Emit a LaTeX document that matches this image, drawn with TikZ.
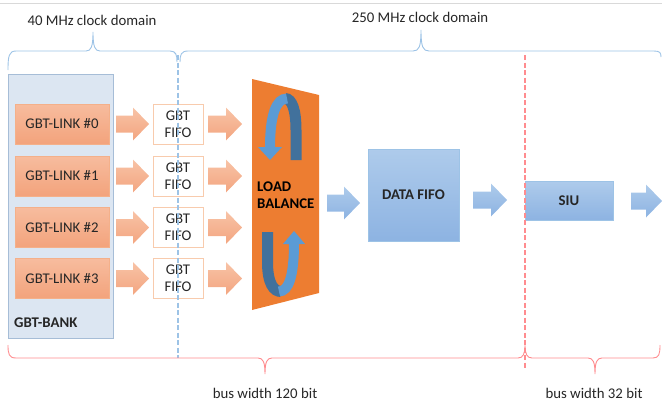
\documentclass[tikz,border=0pt]{standalone}
\usepackage{fontspec}
\setmainfont{Carlito}
\definecolor{txt}{HTML}{262626}
\definecolor{bankfill}{HTML}{DCE6F2}
\definecolor{bankline}{HTML}{A6BDD7}
\definecolor{linktop}{HTML}{F7BC9E}
\definecolor{linkbot}{HTML}{F3A37C}
\definecolor{linkline}{HTML}{F4B08A}
\definecolor{fifoline}{HTML}{F8CBAD}
\definecolor{arrtop}{HTML}{F8C3A6}
\definecolor{arrbot}{HTML}{F3A580}
\definecolor{lbfill}{HTML}{ED7D31}
\definecolor{rotlight}{HTML}{5B9BD5}
\definecolor{rotdark}{HTML}{41719C}
\definecolor{bluetop}{HTML}{AECBEB}
\definecolor{bluebot}{HTML}{8DB3E2}
\definecolor{blueline}{HTML}{9DC3E6}
\definecolor{redline}{HTML}{FF8C8F}
\newcommand\fs{\fontsize{14.8}{17}\selectfont}
\newcommand\barrow[4]{%
  \shade[#4] ({#1},{#3-8.5}) -- ({#2-16},{#3-8.5}) -- ({#2-16},{#3-16.5}) -- ({#2},{#3}) -- ({#2-16},{#3+16.5}) -- ({#2-16},{#3+8.5}) -- ({#1},{#3+8.5}) -- cycle;}
\tikzset{
  lbl/.style={font=\fs, text=txt, inner sep=0},
  link/.style={lbl, draw=linkline, top color=linktop, bottom color=linkbot, minimum width=94pt, minimum height=40pt},
  gfifo/.style={lbl, draw=fifoline, fill=white, minimum width=50pt, minimum height=40pt, align=center},
  bluebox/.style={lbl, font=\fs\bfseries, draw=blueline, top color=bluetop, bottom color=bluebot},
  orarrow/.style={top color=arrtop, bottom color=arrbot},
  blarrow/.style={top color=bluetop, bottom color=bluebot},
  bluebrace/.style={draw=blueline, line width=0.9pt},
  redbrace/.style={draw=redline, line width=0.9pt},
  sepline/.style={dashed, dash pattern=on 5pt off 2.5pt, line width=1.3pt},
}
\begin{document}
\begin{tikzpicture}[x=1pt,y=-1pt]
\useasboundingbox (0,0) rectangle (662,402);
\draw[black!15, line width=0.8pt] (0,3) -- (662,3);
% clock domain braces
\draw[bluebrace] (8,70) .. controls (8,56) and (9,51) .. (16,51) -- (86,51) .. controls (91,51) and (93,47) .. (93,32) .. controls (93,47) and (95,51) .. (100,51) -- (170,51) .. controls (176,51) and (177,55) .. (177,62);
\draw[bluebrace] (180,62) .. controls (180,55) and (181,51) .. (188,51) -- (413,51) .. controls (419,51) and (421,47) .. (421,30) .. controls (421,47) and (423,51) .. (429,51) -- (654,51) .. controls (660,51) and (661,53) .. (661,57);
\node[lbl] (clk40) at (92,20) {40 MHz clock domain};
\node[lbl] (clk250) at (420,17) {250 MHz clock domain};
% GBT bank
\node[lbl, draw=bankline, fill=bankfill, minimum width=105pt, minimum height=264pt] (bank) at (60.5,206) {};
\node[lbl, font=\fs\bfseries, anchor=west] (banklbl) at (14,323) {GBT-BANK};
\foreach \i/\y in {0/124,1/176,2/227.5,3/278.5}{
  \node[link] (link\i) at (62,\y) {GBT-LINK \#\i};
  \barrow{116}{149}{\y}{orarrow}
  \node[gfifo] (gfifo\i) at (178,\y) {GBT\\FIFO};
  \barrow{208}{242}{\y}{orarrow}
}
% load balance
\fill[lbfill] (252,79) -- (319,95) -- (319,293) -- (252,310) -- cycle;
\draw[line width=11pt, rotdark] (296,160) -- (296,130) .. controls (296,110) and (292,98.5) .. (285,98.5);
\draw[line width=10pt, rotlight] (287,98.5) .. controls (276,98.5) and (270,115) .. (270,148);
\fill[rotlight] (258,147) -- (282,147) -- (270,160) -- cycle;
\draw[line width=11pt, rotdark] (267.5,232) -- (267.5,262) .. controls (267.5,284) and (274,291.5) .. (281,291.5);
\draw[line width=10pt, rotlight] (279,291.5) .. controls (289,291.5) and (294,275) .. (294,243);
\fill[rotlight] (283,244) -- (305,244) -- (294,231) -- cycle;
\node[lbl, font=\fs\bfseries, text=black, align=left, anchor=west] (lb) at (257,195.5) {LOAD\\BALANCE};
\barrow{327}{360}{203}{blarrow}
\node[bluebox, minimum width=91pt, minimum height=92pt] (dfifo) at (413.5,195) {DATA FIFO};
\barrow{473}{507}{200}{blarrow}
\node[bluebox, minimum width=88pt, minimum height=39pt] (siu) at (569,200.5) {SIU};
\barrow{631}{662}{201}{blarrow}
% domain separators
\draw[blueline, sepline] (178,55) -- (178,358);
\draw[redline, sepline] (525,55) -- (525,368);
% bus width braces
\draw[redbrace] (8,345) .. controls (8,354) and (9,358) .. (16,358) -- (258,358) .. controls (263,358) and (265,362) .. (265,374) .. controls (265,362) and (267,358) .. (272,358) -- (518,358) .. controls (523,358) and (525,354) .. (525,345) .. controls (525,354) and (527,358) .. (532,358) -- (588,358) .. controls (593,358) and (595,362) .. (595,374) .. controls (595,362) and (597,358) .. (602,358) -- (653,358) .. controls (659,358) and (660,354) .. (660,345);
\node[lbl] (bus120) at (265,393) {bus width 120 bit};
\node[lbl] (bus32) at (594,393) {bus width 32 bit};
\end{tikzpicture}
\end{document}
